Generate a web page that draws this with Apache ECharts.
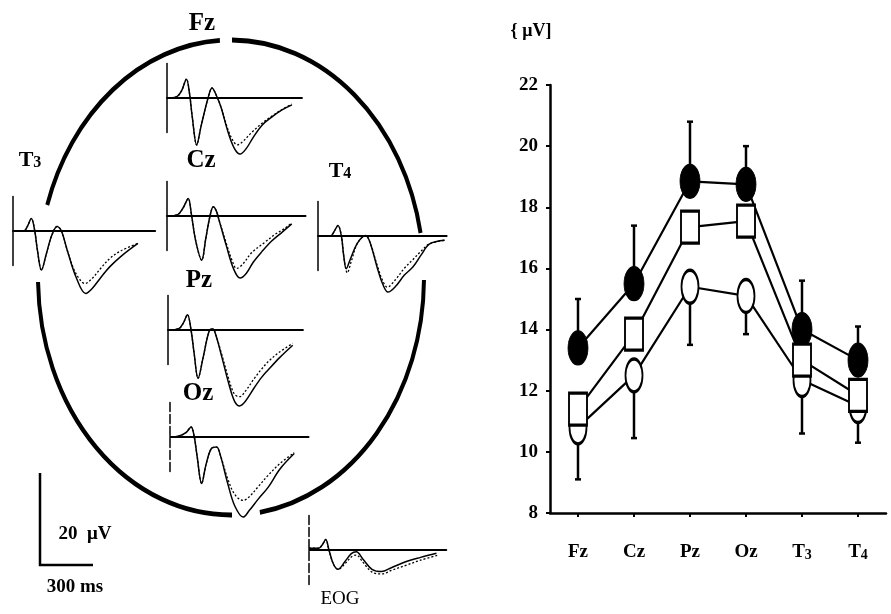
<!DOCTYPE html>
<html><head><meta charset="utf-8">
<script src="https://cdn.jsdelivr.net/npm/echarts@6/dist/echarts.min.js"></script>
<style>html,body{margin:0;padding:0;background:#fff}#c{width:891px;height:614px}</style>
</head><body><div id="c"></div>
<script>
// ---------- Right panel data (μV) ----------
const categories = ['Fz', 'Cz', 'Pz', 'Oz', 'T3', 'T4'];
const filledMean = [13.4, 15.5, 18.85, 18.75, 14.0, 13.0];
const squareMean = [11.4, 13.85, 17.35, 17.55, 13.0, 11.85];
const openMean   = [10.8, 12.5, 15.4, 15.1, 12.35, 11.5];
const filledUpper = [15.0, 17.4, 20.8, 20.0, 15.6, 14.1];
const openLower   = [9.1, 10.45, 13.5, 13.85, 10.6, 10.3];
const yTicks = [8, 10, 12, 14, 16, 18, 20, 22];

// ---------- Left panel waveforms: [ms, μV] ----------
const fzSolid  = [[0,0],[50,0.2],[80,1.5],[108,4.1],[125,1],[140,-4],[165,-10.2],[190,-6],[228,0],[250,2.2],[275,0.5],[300,-2],[340,-7.5],[375,-11],[406,-12.2],[440,-11],[480,-8.5],[528,-5.9],[580,-4.2],[639,-2.6],[694,-1.5]];
const fzDashed = [[0,0],[50,0.2],[80,1.5],[108,4.1],[125,1],[140,-4],[165,-10.2],[190,-6],[228,0],[250,2.2],[275,0.5],[300,-2],[340,-7],[370,-9.5],[390,-10.2],[420,-9.5],[470,-7.5],[528,-5.5],[580,-4],[639,-2.5],[694,-1.3]];
const czSolid  = [[0,0],[60,0.3],[90,1.8],[118,3.8],[135,0.5],[160,-5.5],[193,-9.6],[215,-5],[239,0],[257,2.0],[275,1],[290,-1],[330,-6.5],[370,-11.5],[406,-13.5],[440,-12.5],[480,-10],[526,-7.8],[580,-5.5],[640,-3.5],[693,-1.7]];
const czDashed = [[0,0],[60,0.3],[90,1.8],[118,3.8],[135,0.5],[160,-5.5],[193,-9.6],[215,-5],[239,0],[257,2.0],[275,1],[290,-1],[330,-6],[360,-9.5],[387,-11.4],[420,-10.5],[470,-8],[544,-5.7],[600,-4],[650,-2.8],[693,-1.5]];
const pzSolid  = [[0,0],[60,0.3],[85,1.5],[108,3.3],[128,0],[145,-5],[167,-10.5],[195,-6],[231,0],[249,0.2],[265,-1],[300,-6],[340,-12],[370,-15.5],[398,-16.5],[430,-15.5],[480,-12.5],[520,-10.3],[556,-8.7],[620,-6],[693,-3.3]];
const pzDashed = [[0,0],[60,0.3],[85,1.5],[108,3.3],[128,0],[145,-5],[167,-10.5],[195,-6],[231,0],[249,0.2],[265,-1],[300,-5.5],[340,-11],[370,-14],[398,-14.5],[430,-13.3],[480,-10.5],[520,-8.5],[556,-6.9],[620,-4.8],[693,-2.9]];
const ozSolid  = [[0,0],[50,0.2],[90,1],[117,2.2],[135,0],[150,-4],[176,-10.1],[200,-6],[230,-2.5],[259,-2.2],[280,-4],[320,-10],[360,-15],[407,-17.4],[440,-16],[490,-13.5],[546,-10.9],[610,-7],[690,-3.6]];
const ozDashed = [[0,0],[50,0.2],[90,1],[117,2.2],[135,0],[150,-4],[176,-10.1],[200,-6],[230,-2.5],[259,-2.2],[280,-4],[320,-9],[360,-12.5],[407,-13.8],[440,-13],[490,-10.8],[546,-8.3],[610,-5.8],[690,-3.4]];
const t3Solid  = [[0,0],[60,0],[80,1],[102,2.7],[121,0],[135,-4],[158,-8.5],[185,-5],[215,-1],[245,1.0],[269,0],[300,-4],[350,-10],[404,-13.6],[440,-12.5],[490,-10],[537,-7.8],[600,-5.5],[694,-2.7]];
const t3Dashed = [[0,0],[60,0],[80,1],[102,2.7],[121,0],[135,-4],[158,-8.5],[185,-5],[215,-1],[245,1.0],[269,0],[300,-4],[340,-8.5],[380,-11],[400,-11.4],[440,-10.3],[490,-8],[537,-6],[600,-4.3],[694,-2.7]];
const t4Solid  = [[0,0],[70,0],[90,1],[111,2.3],[130,0],[142,-4],[157,-7.1],[180,-5],[220,-1.5],[265,0.1],[290,-1.5],[330,-7],[360,-10.5],[389,-12.2],[430,-11],[480,-8.5],[528,-6.7],[575,-4],[620,-1.7],[704,-0.9]];
const t4Dashed = [[0,0],[70,0],[90,1],[111,2.3],[130,0],[145,-5],[163,-8.0],[185,-5.5],[220,-1.5],[265,0.1],[290,-1.5],[330,-6.5],[360,-9.8],[385,-11.1],[430,-9.5],[480,-7],[528,-5.1],[575,-3.2],[620,-1.7],[704,-0.9]];
const eogSolid  = [[0,0.4],[55,0.4],[75,1.2],[93,2.3],[111,0],[135,-3],[161,-4.2],[200,-2.5],[235,-0.8],[263,-0.4],[300,-2],[350,-4.2],[402,-4.7],[460,-3.8],[541,-2.5],[620,-1.6],[708,-0.7]];
const eogDashed = [[0,0.4],[55,0.4],[75,1.2],[93,2.3],[111,0],[135,-3],[161,-4.2],[200,-3],[235,-1.5],[263,-1.1],[300,-2.7],[350,-4.8],[405,-5.2],[460,-4.4],[541,-3.3],[620,-2.2],[720,-1.1]];

// ---------- Layout / style ----------
const SERIF = '"Liberation Serif", "DejaVu Serif", serif';
const PX_PER_MS = 0.18, PX_PER_UV = 4.6, HALF = 7.5;
const waves = [
  {solid: fzSolid,  dashed: fzDashed,  left: 167, base: 98,  max: 750, dashAxis: false},
  {solid: czSolid,  dashed: czDashed,  left: 167, base: 216, max: 770, dashAxis: false},
  {solid: pzSolid,  dashed: pzDashed,  left: 168, base: 330, max: 750, dashAxis: false},
  {solid: ozSolid,  dashed: ozDashed,  left: 170, base: 437, max: 770, dashAxis: true},
  {solid: t3Solid,  dashed: t3Dashed,  left: 13,  base: 231, max: 790, dashAxis: false},
  {solid: t4Solid,  dashed: t4Dashed,  left: 318, base: 236, max: 715, dashAxis: false},
  {solid: eogSolid, dashed: eogDashed, left: 309, base: 550, max: 763, dashAxis: true}
];

const chart = echarts.init(document.getElementById('c'), null, {renderer: 'canvas'});

const grids = [{left: 550, right: 5, top: 85, bottom: 101}];
const xAxes = [{
  type: 'category', gridIndex: 0, data: categories, boundaryGap: true,
  axisLine: {lineStyle: {color: '#000', width: 2.5}},
  axisTick: {show: true, alignWithLabel: true, length: 4, lineStyle: {color: '#000', width: 2}},
  axisLabel: {
    interval: 0, margin: 30, color: '#000',
    formatter: v => /^T\d$/.test(v) ? '{b|T}{s|' + v[1] + '}' : '{b|' + v + '}',
    rich: {
      b: {fontFamily: SERIF, fontWeight: 'bold', fontSize: 19, color: '#000', verticalAlign: 'bottom'},
      s: {fontFamily: SERIF, fontWeight: 'bold', fontSize: 14, color: '#000', verticalAlign: 'bottom'}
    }
  },
  splitLine: {show: false}
}];
const yAxes = [{
  type: 'value', gridIndex: 0, min: yTicks[0], max: yTicks[yTicks.length - 1], interval: 2,
  axisLine: {show: true, lineStyle: {color: '#000', width: 2.5}},
  axisTick: {show: true, length: 4, lineStyle: {color: '#000', width: 2}},
  axisLabel: {margin: 12, color: '#000', fontFamily: SERIF, fontWeight: 'bold', fontSize: 19},
  splitLine: {show: false}
}];
const series = [];

waves.forEach((w, i) => {
  const gi = i + 1;
  grids.push({left: w.left, top: w.base - HALF * PX_PER_UV, width: w.max * PX_PER_MS, height: 2 * HALF * PX_PER_UV});
  xAxes.push({type: 'value', gridIndex: gi, min: 0, max: w.max,
    axisLine: {show: true, onZero: true, lineStyle: {color: '#000', width: 1.8}},
    axisTick: {show: false}, axisLabel: {show: false}, splitLine: {show: false}});
  yAxes.push({type: 'value', gridIndex: gi, min: -HALF, max: HALF,
    axisLine: {show: true, onZero: false, lineStyle: {color: '#000', width: 1.5, type: w.dashAxis ? [9, 3] : 'solid'}},
    axisTick: {show: false}, axisLabel: {show: false}, splitLine: {show: false}});
  series.push({type: 'line', xAxisIndex: gi, yAxisIndex: gi, data: w.dashed, showSymbol: false,
    smooth: 0.35, clip: false, silent: true, z: 2,
    lineStyle: {color: '#000', width: 1.3, type: [2, 2]}});
  series.push({type: 'line', xAxisIndex: gi, yAxisIndex: gi, data: w.solid, showSymbol: false,
    smooth: 0.35, clip: false, silent: true, z: 3,
    lineStyle: {color: '#000', width: 1.5}});
});

function errRender(params, api) {
  const x = api.value(0), m = api.value(1), e = api.value(2);
  const p0 = api.coord([x, m]), p1 = api.coord([x, e]);
  const st = {stroke: '#000', lineWidth: 2.5};
  return {type: 'group', children: [
    {type: 'line', shape: {x1: p0[0], y1: p0[1], x2: p1[0], y2: p1[1]}, style: st},
    {type: 'line', shape: {x1: p1[0] - 3, y1: p1[1], x2: p1[0] + 3, y2: p1[1]}, style: st}
  ]};
}

series.push({type: 'custom', xAxisIndex: 0, yAxisIndex: 0, z: 1, renderItem: errRender,
  encode: {x: 0, y: [1, 2]}, data: categories.map((c, i) => [i, filledMean[i], filledUpper[i]])});
series.push({type: 'custom', xAxisIndex: 0, yAxisIndex: 0, z: 1, renderItem: errRender,
  encode: {x: 0, y: [1, 2]}, data: categories.map((c, i) => [i, openMean[i], openLower[i]])});

series.push({type: 'line', xAxisIndex: 0, yAxisIndex: 0, data: openMean, z: 2,
  symbol: 'circle', symbolSize: [17, 33], showSymbol: true,
  lineStyle: {color: '#000', width: 2.2},
  itemStyle: {color: '#fff', borderColor: '#000', borderWidth: 2.5}});
series.push({type: 'line', xAxisIndex: 0, yAxisIndex: 0, data: filledMean, z: 3,
  symbol: 'circle', symbolSize: [20, 34], showSymbol: true,
  lineStyle: {color: '#000', width: 2.2},
  itemStyle: {color: '#000', borderColor: '#000', borderWidth: 1}});
series.push({type: 'line', xAxisIndex: 0, yAxisIndex: 0, data: squareMean, z: 4,
  symbol: 'rect', symbolSize: [18, 32], showSymbol: true,
  lineStyle: {color: '#000', width: 2.2},
  itemStyle: {color: '#fff', borderColor: '#000', borderWidth: 2.5}});

// ---------- Decorations: head outline, labels, scale bar ----------
const HEAD = {cx: 231, cy: 277.5, rx: 193, ry: 237.5};
const arcSpans = [[0.6, 81.4], [89.7, 178.9], [197.8, 266.7], [270.3, 349.2]];
const deg = d => d * Math.PI / 180;
const graphics = arcSpans.map(s => ({
  type: 'arc', x: HEAD.cx, y: HEAD.cy, scaleY: HEAD.ry / HEAD.rx, silent: true,
  shape: {cx: 0, cy: 0, r: HEAD.rx, startAngle: deg(s[0]), endAngle: deg(s[1]), clockwise: true},
  style: {stroke: '#000', fill: 'none', lineWidth: 4}
}));

function label(x, y, text, size, weight, rich) {
  const g = {type: 'text', x: x, y: y, silent: true,
    style: {text: text, fill: '#000', align: 'center', verticalAlign: 'middle',
      font: (weight || 'bold') + ' ' + size + 'px ' + SERIF}};
  if (rich) g.style.rich = rich;
  return g;
}
const tRich = {
  b: {fontFamily: SERIF, fontWeight: 'bold', fontSize: 22, fill: '#000', verticalAlign: 'bottom'},
  s: {fontFamily: SERIF, fontWeight: 'bold', fontSize: 16, fill: '#000', verticalAlign: 'bottom'}
};
graphics.push(label(202, 24, 'Fz', 25));
graphics.push(label(201, 161, 'Cz', 25));
graphics.push(label(199, 281, 'Pz', 25));
graphics.push(label(198, 394, 'Oz', 25));
graphics.push(label(30, 160, '{b|T}{s|3}', 22, 'bold', tRich));
graphics.push(label(340, 171, '{b|T}{s|4}', 22, 'bold', tRich));
graphics.push(label(85, 534, '20  μV', 19));
graphics.push(label(75, 587, '300 ms', 19));
graphics.push(label(340, 599, 'EOG', 19, 'normal'));
graphics.push(label(531, 31, '{ μV]', 18));
graphics.push({type: 'polyline', silent: true,
  shape: {points: [[40, 473], [40, 565], [93, 565]]},
  style: {stroke: '#000', fill: 'none', lineWidth: 2.5}});

chart.setOption({
  animation: false,
  backgroundColor: '#fff',
  grid: grids, xAxis: xAxes, yAxis: yAxes, series: series,
  graphic: {elements: graphics}
});
</script></body></html>
